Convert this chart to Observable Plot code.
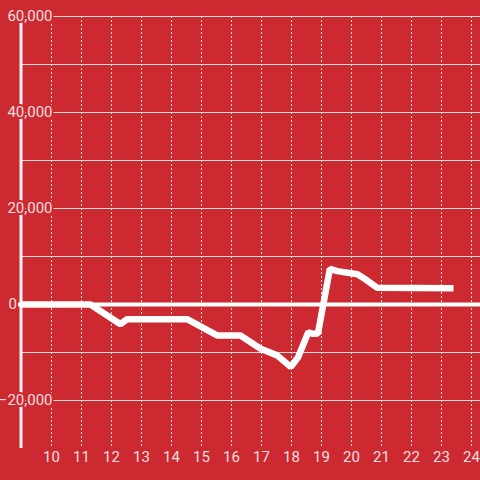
<!DOCTYPE html>
<html><head>
<meta charset="utf-8">
<script src="https://cdn.jsdelivr.net/npm/d3@7"></script>
<script src="https://cdn.jsdelivr.net/npm/@observablehq/plot@0.6"></script>
<style>html,body{margin:0;padding:0;background:#cc2a30;}</style>
</head><body><div id="chart"></div>
<script>
const hours  = [8.97, 11.3, 12.3, 12.52, 14.52, 15.52, 16.3, 16.97, 17.52, 17.98, 18.22, 18.56, 18.72, 18.88, 19.28, 19.52, 20.2, 20.5, 20.85, 23.4];
const values = [0, 0, -4100, -3050, -3050, -6450, -6450, -9200, -10600, -13000, -11000, -5800, -6100, -6050, 7450, 6950, 6300, 5100, 3500, 3400];
const yTickLabels = [-20000, 20000, 40000, 60000];
const yZeroLabel = [0];
const yGridValues = [-20000, -10000, 10000, 20000, 30000, 40000, 50000, 60000];
const xTickLabels = [10, 11, 12, 13, 14, 15, 16, 17, 18, 19, 20, 21, 22, 23, 24];

const data = hours.map((h, i) => ({hour: h, value: values[i]}));
const bg = "#cc2a30";
const fmt = d3.format(",");

const chart = Plot.plot({
  width: 480, height: 480,
  marginLeft: 21, marginRight: 0, marginTop: 16, marginBottom: 32,
  style: {background: bg, fontFamily: "Roboto, sans-serif", fontSize: "15px"},
  x: {domain: [9, 24.3], axis: null},
  y: {domain: [-30000, 60000], axis: null},
  marks: [
    Plot.ruleY(yGridValues, {stroke: "#dcdcdc", strokeWidth: 1}),
    Plot.ruleX(xTickLabels, {stroke: "#dcdcdc", strokeWidth: 1, strokeDasharray: "2,2"}),
    Plot.ruleX([9], {stroke: "#f4f4f4", strokeWidth: 3, dx: -0.5}),
    Plot.ruleY([0], {stroke: "white", strokeWidth: 4, x1: 8.9, x2: 24.3}),
    Plot.line(data, {x: "hour", y: "value", stroke: "white", strokeWidth: 6.5, strokeLinejoin: "miter", strokeLinecap: "butt"}),
    Plot.text(yTickLabels, {y: d => d, frameAnchor: "left", dx: 31, textAnchor: "end",
      text: d => fmt(d), fill: "#f6dfe0", stroke: bg, strokeWidth: 4, fontSize: 15}),
    Plot.text(yZeroLabel, {y: d => d, frameAnchor: "left", dx: -13, textAnchor: "start",
      text: d => String(d), fill: "#f6dfe0", fontSize: 15}),
    Plot.text(xTickLabels, {x: d => d, frameAnchor: "bottom", dy: 13,
      text: d => String(d), fill: "#f6dfe0", fontSize: 15})
  ]
});
document.getElementById("chart").appendChild(chart);
</script>
</body></html>
